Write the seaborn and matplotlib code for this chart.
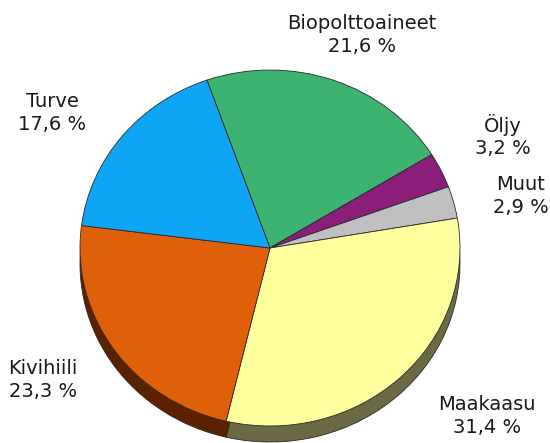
import matplotlib
matplotlib.use("Agg")
import matplotlib.pyplot as plt
import seaborn as sns

# ---- data ----
labels = ["Biopolttoaineet", "Öljy", "Muut", "Maakaasu", "Kivihiili", "Turve"]
shares = [21.6, 3.2, 2.9, 31.4, 23.3, 17.6]
value_labels = [f"{v:.1f}".replace(".", ",") + " %" for v in shares]

top_colors = ["#3cb371", "#8b1e78", "#c0c0c0", "#ffff9e", "#e0600a", "#0ea5f5"]
side_colors = ["#1e5a38", "#45103c", "#606060", "#6b6a45", "#5c2200", "#075280"]

# label positions (pixel coordinates, centre of the two-line block)
label_pos = {
    "Biopolttoaineet": (362, 35),
    "Öljy": (503, 136),
    "Muut": (521, 196),
    "Maakaasu": (487, 416),
    "Kivihiili": (43, 380),
    "Turve": (52, 113),
}

sns.set_theme(style="white")
plt.rcParams["font.family"] = ["DejaVu Sans"]

W, H = 550, 443
fig = plt.figure(figsize=(W / 100, H / 100), dpi=100)
ax = fig.add_axes([0, 0, 1, 1])

rx, ry = 190, 178
k = rx / ry
cx, cy = 270, 248
depth = 16
start = 109.4


def dy(y):
    return (H - y) * k


wp = dict(edgecolor="#2a2a2a", linewidth=0.6)
ax.pie(shares, colors=side_colors, startangle=start, counterclock=False,
       radius=rx, center=(cx, dy(cy + depth)), wedgeprops=wp)
ax.pie(shares, colors=top_colors, startangle=start, counterclock=False,
       radius=rx, center=(cx, dy(cy)), wedgeprops=wp)
ax.set_aspect("auto")
ax.set_xlim(0, W)
ax.set_ylim(0, H * k)
ax.axis("off")

for lab, val in zip(labels, value_labels):
    x, y = label_pos[lab]
    fig.text(x / W, 1 - y / H, f"{lab}\n{val}", ha="center", va="center",
             fontsize=14, color="#1a1a1a", linespacing=1.25)

fig.savefig("out.png", dpi=100, facecolor="white")
